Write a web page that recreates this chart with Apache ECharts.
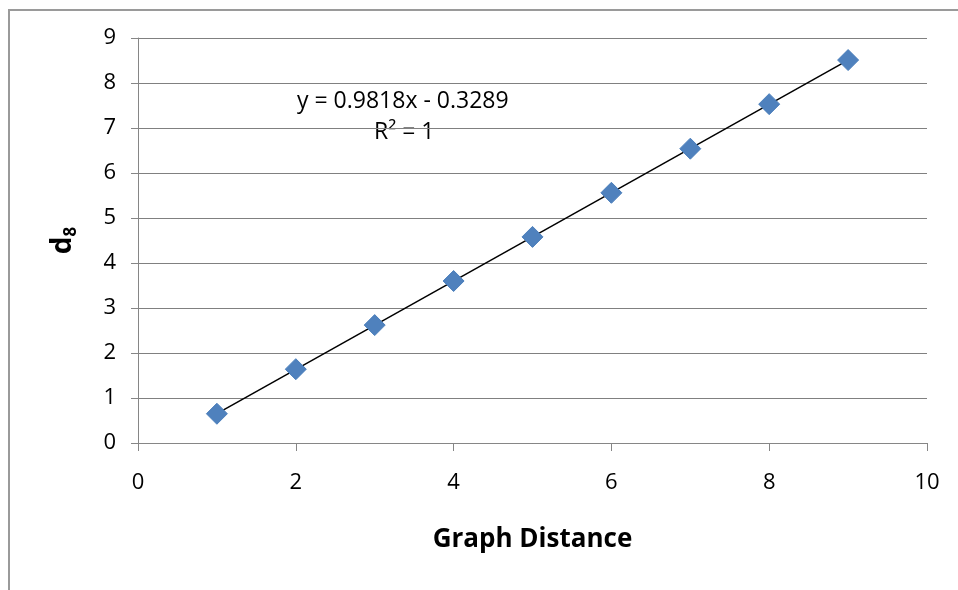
<!DOCTYPE html>
<html>
<head>
<meta charset="utf-8">
<script src="https://cdn.jsdelivr.net/npm/echarts@6/dist/echarts.min.js"></script>
<style>html,body{margin:0;padding:0;background:#fff;}#c{width:958px;height:590px;}</style>
</head>
<body>
<div id="c"></div>
<script>
const xValues = [1, 2, 3, 4, 5, 6, 7, 8, 9];
const yValues = [0.65, 1.64, 2.62, 3.60, 4.58, 5.56, 6.54, 7.53, 8.51];
const trendSlope = 0.9818;
const trendIntercept = -0.3289;
const equationText = 'y = 0.9818x - 0.3289';
const r2Text = 'R² = 1';
const xAxisTitle = 'Graph Distance';

const font = '"Open Sans", "Liberation Sans", sans-serif';
const chart = echarts.init(document.getElementById('c'), null, {renderer: 'canvas'});
const points = xValues.map((x, i) => [x, yValues[i]]);
const trend = [xValues[0], xValues[xValues.length - 1]].map(x => [x, trendSlope * x + trendIntercept]);

chart.setOption({
  animation: false,
  grid: {left: 138, right: 31, top: 38, bottom: 147},
  xAxis: {
    type: 'value', min: 0, max: 10, interval: 2,
    name: xAxisTitle, nameLocation: 'middle', nameGap: 84,
    nameTextStyle: {fontFamily: font, fontSize: 26, fontWeight: 'bold', color: '#000'},
    axisLine: {show: true, onZero: false, lineStyle: {color: '#868686', width: 1}},
    axisTick: {show: true, inside: false, length: 8, lineStyle: {color: '#868686'}},
    axisLabel: {fontFamily: font, fontSize: 22, color: '#000', margin: 29},
    splitLine: {show: false}
  },
  yAxis: {
    type: 'value', min: 0, max: 9, interval: 1,
    name: '{a|d}{b|8}', nameLocation: 'middle', nameGap: 58, nameRotate: 90,
    nameTextStyle: {
      rich: {
        a: {fontFamily: font, fontSize: 28, fontWeight: 'bold', color: '#000'},
        b: {fontFamily: font, fontSize: 17, fontWeight: 'bold', color: '#000', verticalAlign: 'bottom', padding: [16, 0, 0, 0]}
      }
    },
    axisLine: {show: true, lineStyle: {color: '#868686', width: 1}},
    axisTick: {show: true, inside: false, length: 7, lineStyle: {color: '#868686'}},
    axisLabel: {fontFamily: font, fontSize: 22, color: '#000', margin: 22},
    splitLine: {show: true, lineStyle: {color: '#808080', width: 1.2}}
  },
  graphic: [
    {type: 'rect', shape: {x: 9, y: 10, width: 1000, height: 1000}, style: {fill: 'none', stroke: '#9a9a9a', lineWidth: 2}, silent: true, z: -1},
    {type: 'text', left: 297, top: 90, style: {text: equationText, fontFamily: font, fontSize: 23, fill: '#000'}},
    {type: 'text', left: 374, top: 121, style: {text: r2Text, fontFamily: font, fontSize: 23, fill: '#000'}}
  ],
  series: [
    {
      type: 'line', data: trend, symbol: 'none',
      lineStyle: {color: '#000', width: 1.5}, z: 2
    },
    {
      type: 'scatter', data: points, symbol: 'diamond', symbolSize: [21, 21],
      itemStyle: {color: '#4f81bd', borderColor: '#4a7ebb', borderWidth: 1, opacity: 1}, z: 3
    }
  ]
});
</script>
</body>
</html>
